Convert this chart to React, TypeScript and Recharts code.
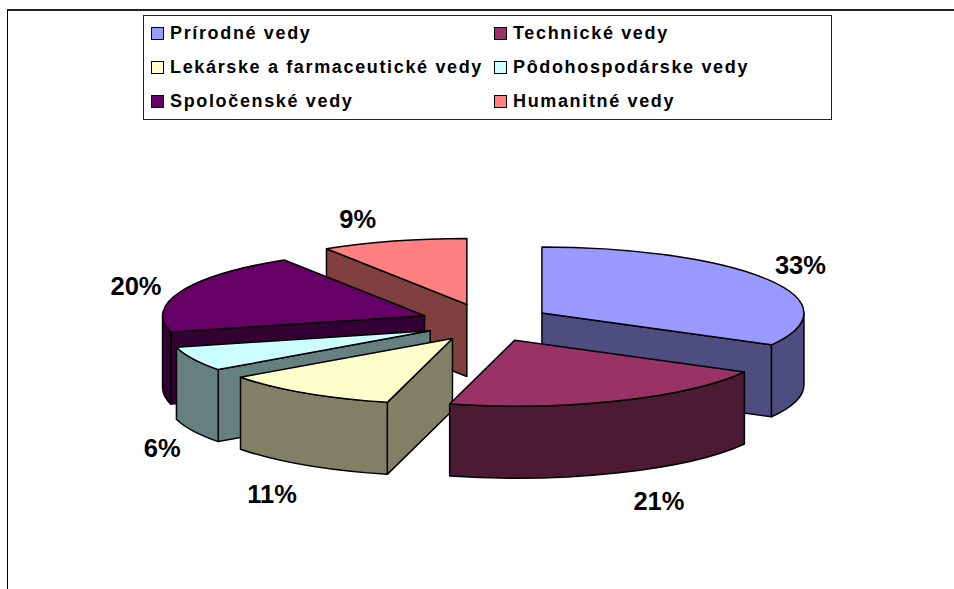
import { Legend, Pie, PieChart } from 'recharts';

const fieldNames = [
    'Prírodné vedy',
    'Technické vedy',
    'Lekárske a farmaceutické vedy',
    'Pôdohospodárske vedy',
    'Spoločenské vedy',
    'Humanitné vedy',
];
const fieldShares = [33, 21, 11, 6, 20, 9];
const fieldColors = ['#9999ff', '#993366', '#ffffcc', '#ccffff', '#660066', '#ff8080'];
const wallColors = ['#4d4d80', '#4d1a33', '#808066', '#668080', '#330033', '#804040'];

// back to front, the slices overlap each other
const paintOrder = [5, 4, 3, 2, 0, 1];
const labelNudges = [[-3, -4], [27, 10], [-5, 12], [12, 9], [-5, 2], [-24, -3]];
// the original has a bit of perspective, front slices sit slightly to the right
const sliceNudges = [1, 4, 4, 4, 0, 0];

const chartData = fieldNames.map((name, i) => ({ name, value: fieldShares[i] }));

const CENTER_X = 485;
const CENTER_Y = 322.7;
const RADIUS = 262;
const SQUASH = 0.252;
const DEPTH = 72;
const EXPLODE_X = 65;
const EXPLODE_Y = 19;

const rad = (deg: number) => (deg * Math.PI) / 180;

// eslint-disable-next-line @typescript-eslint/no-explicit-any
const Slice3D = (props: any) => {
    const { cx, cy, outerRadius, startAngle, endAngle, index } = props;
    const rx = outerRadius;
    const ry = outerRadius * SQUASH;
    const mid = (startAngle + endAngle) / 2;

    const ax = cx + EXPLODE_X * Math.cos(rad(mid)) + sliceNudges[index];
    const ay = cy - EXPLODE_Y * Math.sin(rad(mid));
    const at = (deg: number): [number, number] => [
        ax + rx * Math.cos(rad(deg)),
        ay - ry * Math.sin(rad(deg)),
    ];
    const [sx, sy] = at(startAngle);
    const [ex, ey] = at(endAngle);
    const large = Math.abs(startAngle - endAngle) > 180 ? 1 : 0;
    const wall = wallColors[index];
    const line = { stroke: '#000', strokeWidth: 1.5, strokeLinejoin: 'round' as const };

    const [mx, my] = [ax + Math.cos(rad(mid)), ay - SQUASH * Math.sin(rad(mid))];
    const faces = [at(startAngle), at(endAngle)].filter(([px, py]) => {
        if (Math.abs(px - ax) < 1) return false;
        const lineY = ay + ((py - ay) * (mx - ax)) / (px - ax);
        return my < lineY;
    });

    // only the lower half of the rim faces the viewer: 90..270 clockwise from 12 o'clock
    const clockFrom = Math.max(90 - startAngle, 90);
    const clockTo = Math.min(90 - endAngle, 270);
    const showRim = clockFrom < clockTo;
    const [r1x, r1y] = at(90 - clockFrom);
    const [r2x, r2y] = at(90 - clockTo);

    return (
        <g>
            {faces.map(([px, py], i) => (
                <path
                    key={i}
                    d={`M${ax},${ay} L${px},${py} L${px},${py + DEPTH} L${ax},${ay + DEPTH} Z`}
                    fill={wall}
                    {...line}
                />
            ))}
            {showRim && (
                <path
                    d={`M${r1x},${r1y} A${rx},${ry} 0 0 1 ${r2x},${r2y} L${r2x},${r2y + DEPTH} A${rx},${ry} 0 0 0 ${r1x},${r1y + DEPTH} Z`}
                    fill={wall}
                    {...line}
                />
            )}
            <path
                d={`M${ax},${ay} L${sx},${sy} A${rx},${ry} 0 ${large} 1 ${ex},${ey} Z`}
                fill={fieldColors[index]}
                {...line}
            />
        </g>
    );
};

// eslint-disable-next-line @typescript-eslint/no-explicit-any
const PercentLabel = (props: any) => {
    const { cx, cy, midAngle, percent, index } = props;
    const up = Math.sin(rad(midAngle));
    const [dx, dy] = labelNudges[index];
    return (
        <text
            x={cx + 370 * Math.cos(rad(midAngle)) + dx}
            y={cy - 105 * up + (up < 0 ? DEPTH : 0) + dy}
            textAnchor="middle"
            dominantBaseline="central"
            fontFamily="Liberation Sans"
            fontWeight="bold"
            fontSize={25.5}
            fill="#000"
        >
            {`${Math.round(percent * 100)}%`}
        </text>
    );
};

const LegendBox = () => (
    <div
        style={{
            boxSizing: 'border-box',
            width: 689,
            height: 105,
            border: '1px solid #222',
            background: '#fff',
            display: 'grid',
            gridTemplateColumns: '343px 1fr',
            gridAutoRows: '34px',
            padding: '0 0 0 7px',
            alignContent: 'center',
            fontFamily: 'Liberation Sans',
            fontWeight: 'bold',
            fontSize: 18,
            letterSpacing: 1.65,
            color: '#000',
        }}
    >
        {fieldNames.map((name, i) => (
            <div key={name} style={{ display: 'flex', alignItems: 'center', whiteSpace: 'nowrap' }}>
                <span
                    style={{
                        boxSizing: 'border-box',
                        width: 13,
                        height: 13,
                        marginRight: 6,
                        border: '1px solid #000',
                        background: fieldColors[i],
                        flex: 'none',
                    }}
                />
                {name}
            </div>
        ))}
    </div>
);

export default function App() {
    return (
        <div style={{ position: 'absolute', left: 0, top: 0, width: 954, height: 589, background: '#fff', overflow: 'hidden' }}>
            <div
                style={{
                    position: 'absolute',
                    left: 7,
                    top: 9,
                    right: 0,
                    bottom: 0,
                    borderLeft: '1px solid #000',
                    borderTop: '2px solid #222',
                }}
            />
            <PieChart
                width={954}
                height={589}
                margin={{ top: 0, right: 0, bottom: 0, left: 0 }}
                style={{ position: 'absolute', left: 0, top: 0 }}
            >
                <Legend
                    content={() => <LegendBox />}
                    wrapperStyle={{ position: 'absolute', left: 143, top: 15, width: 689, height: 105 }}
                />
                {paintOrder.map((slice) => (
                    <Pie
                        key={slice}
                        data={chartData}
                        dataKey="value"
                        nameKey="name"
                        cx={CENTER_X}
                        cy={CENTER_Y}
                        outerRadius={RADIUS}
                        startAngle={90}
                        endAngle={-270}
                        paddingAngle={0}
                        isAnimationActive={false}
                        labelLine={false}
                        // eslint-disable-next-line @typescript-eslint/no-explicit-any
                        label={(p: any) => (p.index === slice ? <PercentLabel {...p} /> : <g />)}
                        // eslint-disable-next-line @typescript-eslint/no-explicit-any
                        shape={(p: any) => (p.index === slice ? <Slice3D {...p} /> : <g />)}
                    />
                ))}
            </PieChart>
        </div>
    );
}
